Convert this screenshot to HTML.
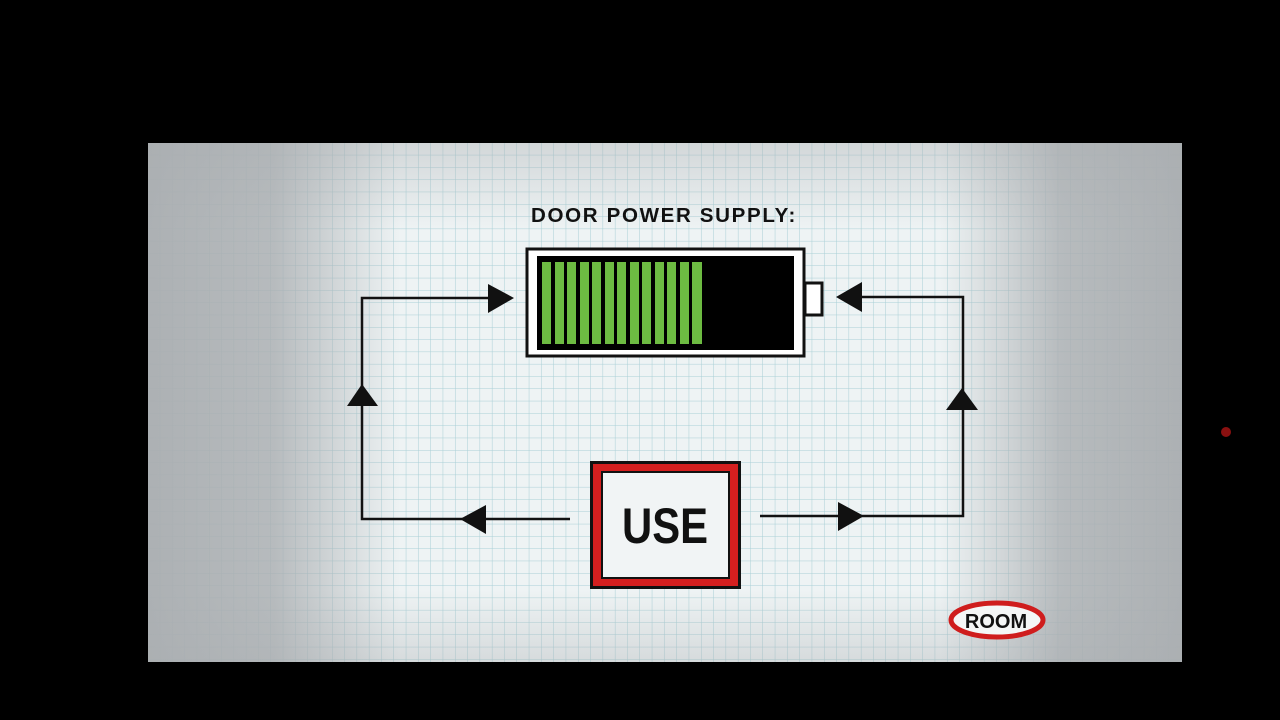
<!DOCTYPE html>
<html><head><meta charset="utf-8"><style>
html,body{margin:0;padding:0;background:#000;width:1280px;height:720px;overflow:hidden}
svg{display:block}
</style></head><body>
<svg width="1280" height="720" viewBox="0 0 1280 720" xmlns="http://www.w3.org/2000/svg">
<defs>
<pattern id="grid" x="148" y="143" width="12.3" height="12.3" patternUnits="userSpaceOnUse">
<rect width="12.3" height="12.3" fill="#eef3f4"/>
<path d="M12.3 0V12.3M0 12.3H12.3" stroke="#a9cfd6" stroke-width="1"/>
</pattern>
<linearGradient id="lg" x1="148" x2="400" gradientUnits="userSpaceOnUse">
<stop offset="0" stop-color="#a9adb0" stop-opacity="0.95"/><stop offset="0.5" stop-color="#a9adb0" stop-opacity="0.8"/><stop offset="1" stop-color="#a9adb0" stop-opacity="0"/>
</linearGradient>
<linearGradient id="rg" x1="1182" x2="940" gradientUnits="userSpaceOnUse">
<stop offset="0" stop-color="#a9adb0" stop-opacity="0.95"/><stop offset="0.5" stop-color="#a9adb0" stop-opacity="0.8"/><stop offset="1" stop-color="#a9adb0" stop-opacity="0"/>
</linearGradient>
<linearGradient id="tg" y1="143" y2="230" x1="0" x2="0" gradientUnits="userSpaceOnUse">
<stop offset="0" stop-color="#a9adb0" stop-opacity="0.4"/><stop offset="1" stop-color="#a9adb0" stop-opacity="0"/>
</linearGradient>
<linearGradient id="bg" y1="662" y2="590" x1="0" x2="0" gradientUnits="userSpaceOnUse">
<stop offset="0" stop-color="#a9adb0" stop-opacity="0.35"/><stop offset="1" stop-color="#a9adb0" stop-opacity="0"/>
</linearGradient>
</defs>
<rect x="148" y="143" width="1034" height="519" fill="url(#grid)"/>
<rect x="148" y="143" width="1034" height="90" fill="url(#tg)"/>
<rect x="148" y="580" width="1034" height="82" fill="url(#bg)"/>
<rect x="148" y="143" width="252" height="519" fill="url(#lg)"/>
<rect x="940" y="143" width="242" height="519" fill="url(#rg)"/>
<circle cx="1226" cy="432" r="5" fill="#8a1010"/>

<text x="664" y="222" text-anchor="middle" font-family="Liberation Sans, sans-serif" font-weight="bold" font-size="20" letter-spacing="1.6" fill="#111" textLength="266" lengthAdjust="spacingAndGlyphs">DOOR POWER SUPPLY:</text>

<!-- battery -->
<rect x="527" y="249" width="277" height="107" fill="#fff" stroke="#111" stroke-width="3"/>
<rect x="805" y="283" width="17" height="32" fill="#fff" stroke="#111" stroke-width="3"/>
<rect x="537" y="256" width="257" height="94" fill="#000"/>
<g fill="#6dbb42">
<rect x="542" y="262" width="9" height="82"/><rect x="555" y="262" width="9" height="82"/><rect x="567" y="262" width="9" height="82"/><rect x="580" y="262" width="9" height="82"/><rect x="592" y="262" width="9" height="82"/><rect x="605" y="262" width="9" height="82"/><rect x="617" y="262" width="9" height="82"/><rect x="630" y="262" width="9" height="82"/><rect x="642" y="262" width="9" height="82"/><rect x="655" y="262" width="9" height="82"/><rect x="667" y="262" width="9" height="82"/><rect x="680" y="262" width="9" height="82"/><rect x="692" y="262" width="10" height="82"/>
</g>

<!-- lines -->
<g stroke="#111" stroke-width="2.5" fill="none">
<path d="M500 298H362V519H570"/>
<path d="M760 516H963V297H845"/>
</g>
<g fill="#111">
<polygon points="488,284 514,298 488,313"/>
<polygon points="347,406 362,384 378,406"/>
<polygon points="486,505 460,519 486,534"/>
<polygon points="838,502 864,516 838,531"/>
<polygon points="946,410 962,388 978,410"/>
<polygon points="862,282 836,297 862,312"/>
</g>

<!-- USE -->
<rect x="590" y="461" width="151" height="128" fill="#111"/>
<rect x="593" y="464" width="145" height="122" fill="#d41f1f"/>
<rect x="601" y="471" width="129" height="108" fill="#111"/>
<rect x="603" y="473" width="125" height="104" fill="#f1f4f5"/>
<text x="665" y="543" text-anchor="middle" font-family="Liberation Sans, sans-serif" font-weight="bold" font-size="50" fill="#111" textLength="86" lengthAdjust="spacingAndGlyphs">USE</text>

<!-- ROOM -->
<ellipse cx="997" cy="620" rx="46" ry="17" fill="#f4f6f6" stroke="#cf1d1d" stroke-width="5"/>
<text x="996" y="628" text-anchor="middle" font-family="Liberation Sans, sans-serif" font-weight="bold" font-size="20" fill="#111">ROOM</text>
</svg>
</body></html>
